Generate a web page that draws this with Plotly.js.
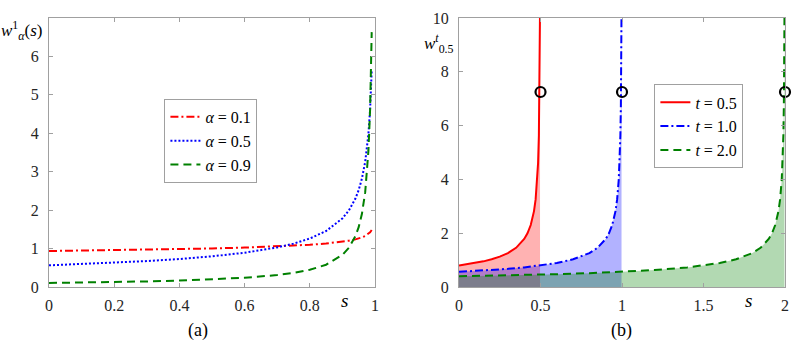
<!DOCTYPE html>
<html>
<head>
<meta charset="utf-8">
<script src="https://cdn.plot.ly/plotly-3.0.1.min.js"></script>
<style>
  html, body { margin: 0; padding: 0; background: #fff; }
  #myDiv { width: 796px; height: 342px; }
</style>
</head>
<body>
<div id="myDiv"></div>
<script>
// (a) w^1_alpha(s)
var sA = [0, 0.1, 0.2, 0.3, 0.4, 0.5, 0.6, 0.7, 0.75, 0.8, 0.85, 0.9, 0.92, 0.94, 0.95, 0.96, 0.97, 0.98, 0.985, 0.99];
var alpha01 = [0.9358, 0.9457, 0.9569, 0.9698, 0.9848, 1.0030, 1.0256, 1.0555, 1.0749, 1.0992, 1.1313, 1.1781, 1.2047, 1.2398, 1.2626, 1.2911, 1.3288, 1.3838, 1.4242, 1.4831];
var alpha05 = [0.5642, 0.5947, 0.6308, 0.6743, 0.7284, 0.7979, 0.8921, 1.0301, 1.1284, 1.2616, 1.4567, 1.7841, 1.9947, 2.3033, 2.5231, 2.8209, 3.2574, 3.9894, 4.6066, 5.6419];
var alpha09 = [0.1051, 0.1156, 0.1285, 0.1449, 0.1665, 0.1962, 0.2398, 0.3106, 0.3660, 0.4475, 0.5796, 0.8350, 1.0207, 1.3223, 1.5581, 1.9046, 2.4675, 3.5539, 4.6045, 6.6322];

// (b) w^t_0.5(s) for three t
var sT05 = [0, 0.05, 0.1, 0.15, 0.2, 0.25, 0.3, 0.35, 0.4, 0.42, 0.44, 0.46, 0.47, 0.48, 0.485, 0.49, 0.493, 0.495, 0.497];
var wT05 = [0.7979, 0.8410, 0.8921, 0.9537, 1.0301, 1.1284, 1.2616, 1.4567, 1.7841, 1.9947, 2.3033, 2.8209, 3.2574, 3.9894, 4.6066, 5.6419, 6.7434, 7.9788, 10.3007];
var sT10 = [0, 0.1, 0.2, 0.3, 0.4, 0.5, 0.6, 0.7, 0.8, 0.85, 0.9, 0.92, 0.94, 0.96, 0.97, 0.98, 0.985, 0.99, 0.993, 0.995, 0.997];
var wT10 = [0.5642, 0.5947, 0.6308, 0.6743, 0.7284, 0.7979, 0.8921, 1.0301, 1.2616, 1.4567, 1.7841, 1.9947, 2.3033, 2.8209, 3.2574, 3.9894, 4.6066, 5.6419, 6.7434, 7.9788, 10.3007];
var sT20 = [0, 0.2, 0.4, 0.6, 0.8, 1.0, 1.2, 1.4, 1.5, 1.6, 1.7, 1.8, 1.85, 1.9, 1.92, 1.94, 1.96, 1.97, 1.98, 1.985, 1.99, 1.993, 1.995, 1.997];
var wT20 = [0.3989, 0.4205, 0.4460, 0.4768, 0.5150, 0.5642, 0.6308, 0.7284, 0.7979, 0.8921, 1.0301, 1.2616, 1.4567, 1.7841, 1.9947, 2.3033, 2.8209, 3.2574, 3.9894, 4.6066, 5.6419, 6.7434, 7.9788, 10.3007];

var circleS = [0.5, 1, 2];
var circleW = [7.25, 7.25, 7.25];

var serif = 'Times New Roman';
var red = '#ff0000', blue = '#0000ff', green = '#008000';

var data = [
  // left panel
  {x: sA, y: alpha01, type: 'scatter', mode: 'lines', name: '<i>α</i> = 0.1',
   line: {color: red, width: 2, dash: '8px,3px,2px,3px'}, xaxis: 'x', yaxis: 'y', legend: 'legend'},
  {x: sA, y: alpha05, type: 'scatter', mode: 'lines', name: '<i>α</i> = 0.5',
   line: {color: blue, width: 2, dash: '2px,2px'}, xaxis: 'x', yaxis: 'y', legend: 'legend'},
  {x: sA, y: alpha09, type: 'scatter', mode: 'lines', name: '<i>α</i> = 0.9',
   line: {color: green, width: 2, dash: '8px,5px'}, xaxis: 'x', yaxis: 'y', legend: 'legend'},

  // right panel: shaded areas
  {x: sT05, y: wT05, type: 'scatter', mode: 'none', fill: 'tozeroy', fillcolor: 'rgba(255,0,0,0.3)',
   showlegend: false, xaxis: 'x2', yaxis: 'y2', hoverinfo: 'skip'},
  {x: sT10, y: wT10, type: 'scatter', mode: 'none', fill: 'tozeroy', fillcolor: 'rgba(0,0,255,0.3)',
   showlegend: false, xaxis: 'x2', yaxis: 'y2', hoverinfo: 'skip'},
  {x: sT20, y: wT20, type: 'scatter', mode: 'none', fill: 'tozeroy', fillcolor: 'rgba(0,128,0,0.3)',
   showlegend: false, xaxis: 'x2', yaxis: 'y2', hoverinfo: 'skip'},

  // right panel: curves
  {x: sT05, y: wT05, type: 'scatter', mode: 'lines', name: '<i>t</i> = 0.5',
   line: {color: red, width: 2}, xaxis: 'x2', yaxis: 'y2', legend: 'legend2'},
  {x: sT10, y: wT10, type: 'scatter', mode: 'lines', name: '<i>t</i> = 1.0',
   line: {color: blue, width: 2, dash: '8px,3px,2px,3px'}, xaxis: 'x2', yaxis: 'y2', legend: 'legend2'},
  {x: sT20, y: wT20, type: 'scatter', mode: 'lines', name: '<i>t</i> = 2.0',
   line: {color: green, width: 2, dash: '8px,5px'}, xaxis: 'x2', yaxis: 'y2', legend: 'legend2'},
  {x: circleS, y: circleW, type: 'scatter', mode: 'markers', showlegend: false, cliponaxis: false,
   marker: {symbol: 'circle-open', size: 10, color: '#000', line: {width: 2.2, color: '#000'}},
   xaxis: 'x2', yaxis: 'y2'}
];

var axisStyle = {
  showline: true, mirror: 'ticks', linecolor: '#a0a0a0', linewidth: 1,
  ticks: 'inside', ticklen: 4, tickcolor: '#a0a0a0',
  showgrid: false, zeroline: false,
  tickfont: {family: serif, size: 16, color: '#262626'}
};

function ax(extra) { return Object.assign({}, axisStyle, extra); }

var legendStyle = {
  bgcolor: '#fff', bordercolor: '#a0a0a0', borderwidth: 1,
  font: {family: serif, size: 16, color: '#000'},
  xanchor: 'center', yanchor: 'middle', itemwidth: 30, tracegroupgap: 0
};

function label(xref, x, y, text, size, xanchor) {
  return {xref: xref, yref: 'paper', x: x, y: y, showarrow: false, text: text,
    xanchor: xanchor || 'center', yanchor: 'middle',
    font: {family: serif, size: size, color: '#000'}};
}

var layout = {
  width: 796, height: 342,
  margin: {l: 49, r: 11, t: 18, b: 55},
  font: {family: serif},
  paper_bgcolor: '#fff', plot_bgcolor: '#fff',
  xaxis: ax({domain: [0, 0.4429], range: [0, 1], tickvals: [0, 0.2, 0.4, 0.6, 0.8, 1], anchor: 'y', ticklabelstandoff: 4}),
  yaxis: ax({domain: [0, 1], range: [0, 7], tickvals: [0, 1, 2, 3, 4, 5, 6], anchor: 'x', ticklabelstandoff: 6}),
  xaxis2: ax({domain: [0.5571, 1], range: [0, 2], tickvals: [0, 0.5, 1, 1.5, 2], anchor: 'y2', ticklabelstandoff: 4}),
  yaxis2: ax({domain: [0, 1], range: [0, 10], tickvals: [0, 2, 4, 6, 8, 10], anchor: 'x2', ticklabelstandoff: 6}),
  legend: Object.assign({}, legendStyle, {x: 0.220, y: 0.543}),
  legend2: Object.assign({}, legendStyle, {x: 0.883, y: 0.597}),
  showlegend: true,
  annotations: [
    label('paper', -0.005, 0.955, '<i>w</i><sup>1</sup><sub><i>α</i></sub>(<i>s</i>)', 17, 'right'),
    label('paper', 0.553, 0.905, '<i>w</i><sup><i>t</i></sup><sub>0.5</sub>', 17, 'right'),
    label('x', 0.905, -0.052, '<i>s</i>', 19),
    label('x2', 1.773, -0.052, '<i>s</i>', 19),
    label('paper', 0.2024, -0.16, '(a)', 18),
    label('paper', 0.7785, -0.16, '(b)', 18)
  ]
};

Plotly.newPlot('myDiv', data, layout, {displayModeBar: false, staticPlot: true});
</script>
</body>
</html>
